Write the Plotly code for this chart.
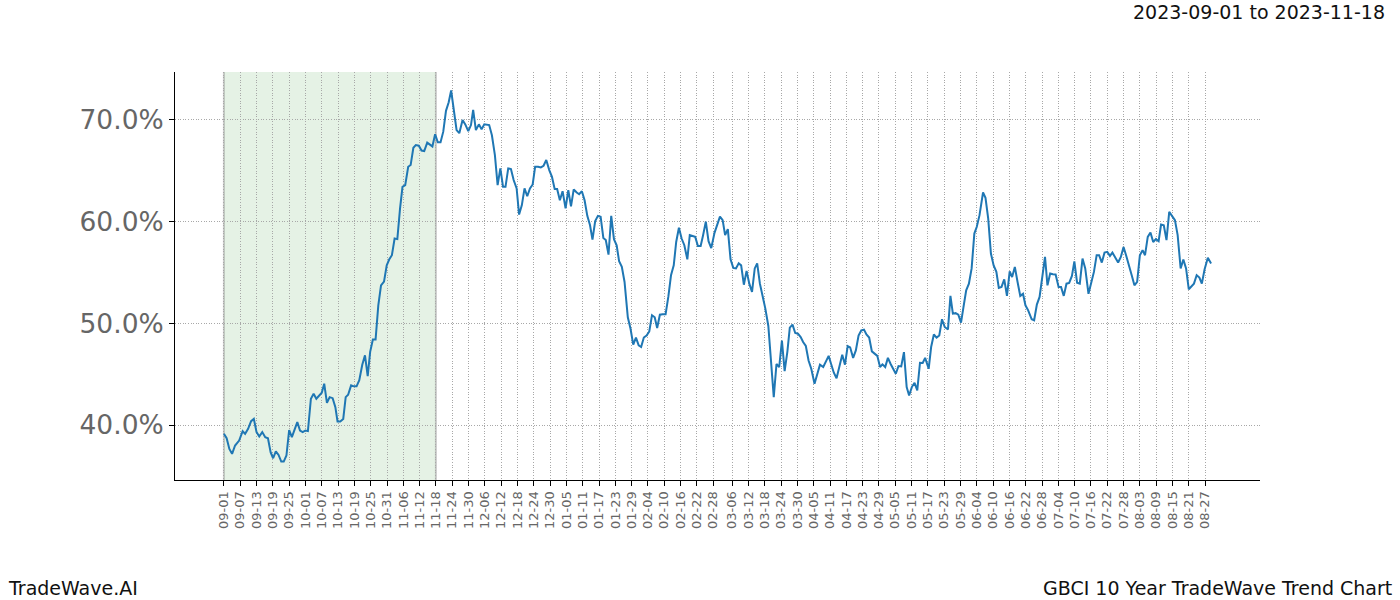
import pandas as pd
import plotly.graph_objects as go

start_date = "2023-09-01"
highlight_start = "2023-09-01"
highlight_end = "2023-11-18"

# day offsets from start_date and trend values (%)
day_offsets = [
    0, 1, 2, 3, 4.1, 5.6, 6.9, 7.8, 8.9, 10, 11, 12, 13, 14.1, 15.2, 16.2, 17.2, 18.1, 19.1, 20.1,
    21.1, 22, 23, 24, 25, 26, 27, 28, 29, 30, 30.9, 32, 33, 34, 35, 36, 36.9, 37.9, 38.9, 40,
    41, 41.8, 42.8, 43.9, 44.8, 45.7, 46.8, 47.8, 48.8, 49.8, 50.9, 51.9, 52.9, 53.8, 54.8, 55.8,
    56.8, 57.8, 58.9, 59.9, 60.8, 61.8, 62.8, 63.8, 64.8, 65.7, 66.7, 67.8, 68.7, 69.7, 70.6, 71.7,
    72.7, 73.7, 74.8, 75.8, 76.7, 77.7, 78.7, 79.7, 80.7, 81.7, 82.7, 83.6, 84.6, 85.6, 86.6, 87.8,
    88.8, 89.9, 90.9, 91.7, 92.7, 93.8, 94.8, 95.8, 97.6, 98.6, 99.7, 100.7, 101.7, 102.7, 103.6,
    104.6, 105.6, 106.6, 107.7, 108.6, 109.6, 110.6, 111.6, 112.6, 113.6, 114.5, 115.6, 116.6,
    117.6, 118.6, 119.7, 120.7, 121.7, 122.6, 123.6, 124.6, 125.7, 126.7, 127.7, 128.7, 129.8,
    130.7, 131.7, 132.7, 133.7, 134.7, 135.6, 136.6, 137.6, 138.6, 139.6, 140.5, 141.5, 142.5,
    143.5, 144.5, 145.4, 146.4, 147.4, 148.6, 149.6, 150.6, 151.6, 152.6, 153.5, 154.5, 155.5,
    156.5, 157.5, 158.5, 159.4, 160.4, 161.4, 162.5, 163.5, 164.5, 165.5, 166.4, 167.4, 168.4,
    169.4, 170.5, 171.4, 172.4, 173.4, 174.4, 175.4, 176.3, 177.3, 178.3, 179.3, 180.5, 181.5,
    182.5, 183.5, 184.4, 185.4, 186.4, 187.4, 188.4, 189.4, 190.3, 191.3, 192.3, 193.3, 194.3,
    195.3, 196.2, 197.2, 198.2, 199.2, 200.3, 201.2, 202.3, 203.3, 204.3, 205.3, 206.3, 207.3,
    208.2, 209.2, 210.2, 211.2, 212.2, 213.1, 214.1, 215.1, 216.1, 217.3, 218.3, 219.3, 220.5,
    221.5, 222.5, 223.4, 224.4, 225.4, 226.4, 227.5, 228.5, 229.5, 230.4, 231.5, 232.5, 233.5,
    234.5, 235.5, 236.4, 237.4, 238.4, 239.4, 240.4, 241.4, 242.3, 243.3, 244.3, 245.3, 246.2,
    247.2, 248.2, 249.2, 250.2, 251.2, 252.1, 253.1, 254.1, 255.1, 256.1, 257.1, 258, 259.3,
    260.2, 261.2, 262.2, 263.2, 264.2, 265.2, 266.4, 267.3, 268.2, 269.2, 270.2, 271.2, 272.1,
    273.1, 274.1, 275.1, 276.1, 277, 278, 279.3, 280.2, 281.2, 282.2, 283.2, 284.2, 285.1, 286.1,
    287.1, 288.1, 289.1, 290, 291, 292, 293, 294, 294.9, 295.9, 297.2, 298.1, 299.1, 300.1, 301.1,
    302.1, 303, 304, 305, 306, 307.1, 308, 309, 310, 311, 312, 312.9, 313.9, 314.9, 315.9, 316.9,
    318.1, 319.1, 320.1, 321.1, 322, 323, 324, 325, 326, 326.9, 327.9, 329, 330, 331, 332, 333.1,
    334, 335, 336, 337, 338, 338.9, 339.9, 340.9, 341.9, 342.9, 343.9, 344.8, 345.8, 346.8, 347.8,
    348.8, 349.9, 350.9, 352, 353, 354, 355, 355.9, 356.9, 357.9, 358.9, 359.8, 360.8, 362, 363.2,
]

trend_pct = [
    39.13, 38.7, 37.65, 37.16, 37.98, 38.47, 39.39, 39.13, 39.62, 40.38, 40.6, 39.3, 38.87, 39.3,
    38.8, 38.7, 37.3, 36.73, 37.4, 37.06, 36.4, 36.4, 37.0, 39.5, 38.8, 39.46, 40.28, 39.46, 39.3,
    39.46, 39.4, 42.58, 43.07, 42.58, 42.9, 43.17, 44.06, 42.18, 42.74, 42.64, 41.76, 40.35, 40.35,
    40.6, 42.74, 42.97, 43.9, 43.8, 43.8, 44.4, 45.93, 46.85, 44.8, 47.2, 48.4, 48.4, 51.77, 53.74,
    54.1, 55.7, 56.27, 56.7, 58.34, 58.28, 61.3, 63.43, 63.6, 65.4, 65.57, 67.27, 67.54, 67.47,
    67.0, 66.95, 67.77, 67.6, 67.4, 68.6, 67.8, 67.8, 68.85, 70.9, 71.74, 72.9, 71.0, 69.0, 68.7,
    70.0, 69.57, 68.9, 69.5, 71.0, 69.0, 69.57, 69.1, 69.57, 69.5, 68.5, 66.55, 63.6, 65.24, 63.43,
    63.43, 65.24, 65.17, 64.1, 63.27, 60.7, 61.6, 63.27, 62.5, 63.27, 63.66, 65.4, 65.4, 65.34,
    65.5, 66.06, 65.07, 64.4, 63.2, 63.2, 62.1, 63.0, 61.3, 63.1, 61.5, 63.17, 62.87, 62.7, 63.0,
    62.1, 60.57, 59.65, 58.24, 60.05, 60.57, 60.48, 58.4, 58.2, 56.76, 60.57, 58.28, 57.68, 56.1,
    55.55, 54.07, 50.6, 49.47, 47.9, 48.6, 47.83, 47.67, 48.6, 48.8, 49.2, 50.8, 50.6, 49.54, 50.85,
    50.9, 50.9, 52.6, 54.73, 55.7, 58.0, 59.4, 58.34, 57.68, 56.3, 58.67, 58.57, 58.5, 57.6, 57.6,
    58.67, 60.0, 58.08, 57.4, 58.9, 59.8, 60.5, 60.15, 58.67, 59.26, 56.3, 55.45, 55.4, 55.9, 55.7,
    53.8, 55.16, 53.9, 53.1, 55.4, 55.9, 53.9, 52.7, 51.45, 49.74, 46.2, 42.74, 46.0, 45.7, 48.3,
    45.3, 47.2, 49.57, 49.87, 49.05, 48.98, 48.65, 48.16, 47.77, 46.35, 45.53, 44.06, 45.04, 45.93,
    45.7, 46.26, 46.8, 46.0, 45.14, 44.6, 45.7, 46.9, 45.93, 47.77, 47.64, 46.6, 47.34, 48.8, 49.3,
    49.38, 48.9, 48.6, 47.24, 47.0, 46.8, 45.7, 45.96, 45.7, 46.6, 46.0, 45.53, 45.04, 45.8, 45.76,
    47.17, 43.73, 42.9, 43.73, 44.15, 43.4, 46.12, 46.1, 46.6, 45.53, 47.67, 48.9, 48.6, 48.8, 50.4,
    49.64, 49.4, 52.7, 50.95, 51.0, 50.85, 50.07, 51.6, 53.25, 53.9, 55.4, 58.83, 59.5, 60.64,
    62.87, 62.35, 60.3, 56.86, 55.7, 55.06, 53.48, 53.58, 54.33, 52.7, 55.1, 54.56, 55.55, 54.07,
    52.7, 52.9, 51.77, 51.28, 50.4, 50.3, 51.84, 52.6, 54.8, 56.53, 53.74, 54.9, 54.83, 54.8, 53.58,
    53.58, 52.7, 53.9, 53.97, 54.66, 56.1, 54.0, 53.9, 56.37, 55.4, 52.9, 54.0, 55.06, 56.7, 56.7,
    55.98, 56.96, 57.03, 56.63, 56.96, 56.5, 55.98, 56.53, 57.5, 56.63, 55.7, 54.73, 53.74, 54.07,
    56.7, 57.2, 56.7, 58.5, 58.93, 58.0, 58.28, 58.08, 59.72, 59.65, 58.18, 60.97, 60.57, 60.15,
    58.67, 55.4, 56.27, 55.4, 53.35, 53.58, 53.9, 54.73, 54.5, 53.9, 55.3, 56.44, 55.88,
]

tick_labels = [
    "09-01", "09-07", "09-13", "09-19", "09-25", "10-01", "10-07", "10-13", "10-19", "10-25",
    "10-31", "11-06", "11-12", "11-18", "11-24", "11-30", "12-06", "12-12", "12-18", "12-24",
    "12-30", "01-05", "01-11", "01-17", "01-23", "01-29", "02-04", "02-10", "02-16", "02-22",
    "02-28", "03-06", "03-12", "03-18", "03-24", "03-30", "04-05", "04-11", "04-17", "04-23",
    "04-29", "05-05", "05-11", "05-17", "05-23", "05-29", "06-04", "06-10", "06-16", "06-22",
    "06-28", "07-04", "07-10", "07-16", "07-22", "07-28", "08-03", "08-09", "08-15", "08-21",
    "08-27",
]

y_ticks = [0.40, 0.50, 0.60, 0.70]

t0 = pd.Timestamp(start_date)
x_dates = [t0 + pd.to_timedelta(d, unit="D") for d in day_offsets]
y_vals = [v / 100 for v in trend_pct]

tick_vals = []
for lab in tick_labels:
    m = int(lab[:2])
    yr = 2023 if m >= 9 else 2024
    tick_vals.append(pd.Timestamp(f"{yr}-{lab}"))

x_min = t0 - pd.to_timedelta(18.0, unit="D")
x_max = t0 + pd.to_timedelta(381.2, unit="D")

fig = go.Figure()
fig.add_trace(go.Scatter(
    x=x_dates, y=y_vals, mode="lines",
    line=dict(color="#1f77b4", width=2),
    hoverinfo="skip", showlegend=False,
))

fig.add_shape(type="rect", xref="x", yref="paper",
              x0=highlight_start, x1=highlight_end, y0=0, y1=1,
              fillcolor="rgba(0,128,0,0.1)", line=dict(width=0), layer="below")
for xe in (highlight_start, highlight_end):
    fig.add_shape(type="line", xref="x", yref="paper", x0=xe, x1=xe, y0=0, y1=1,
                  line=dict(color="rgba(128,128,128,0.4)", width=2), layer="below")

L, R, T, B = 175, 140, 72, 120
W, H = 1400, 600
pw, ph = W - L - R, H - T - B

def px(xp):
    return (xp - L) / pw

def py(yp):
    return (H - B - yp) / ph

font_family = "DejaVu Sans"

fig.add_annotation(text="2023-09-01 to 2023-11-18", xref="paper", yref="paper",
                   x=px(1387), y=py(12), xanchor="right", yanchor="middle",
                   showarrow=False, font=dict(size=19, color="#111111", family=font_family))
fig.add_annotation(text="TradeWave.AI", xref="paper", yref="paper",
                   x=px(6), y=py(588), xanchor="left", yanchor="middle",
                   showarrow=False, font=dict(size=19, color="#111111", family=font_family))
fig.add_annotation(text="GBCI 10 Year TradeWave Trend Chart", xref="paper", yref="paper",
                   x=px(1394), y=py(588), xanchor="right", yanchor="middle",
                   showarrow=False, font=dict(size=19, color="#111111", family=font_family))

grid_style = dict(showgrid=True, gridcolor="#a8a8a8", griddash="1px,1.6px", gridwidth=0.8)

fig.update_layout(
    width=W, height=H,
    margin=dict(l=L, r=R, t=T, b=B),
    paper_bgcolor="white", plot_bgcolor="white",
    font=dict(family=font_family),
    xaxis=dict(
        type="date", range=[x_min, x_max],
        tickmode="array", tickvals=tick_vals, ticktext=tick_labels,
        tickangle=-90, tickfont=dict(size=13, color="#666666"),
        ticks="outside", ticklen=5, tickcolor="black", tickwidth=1,
        showline=True, linecolor="black", linewidth=1, mirror=False,
        zeroline=False, **grid_style,
    ),
    yaxis=dict(
        range=[0.3459, 0.7472],
        tickmode="array", tickvals=y_ticks, tickformat=".1%",
        tickfont=dict(size=26.5, color="#666666"),
        ticks="outside", ticklen=5, tickcolor="black", tickwidth=1,
        showline=True, linecolor="black", linewidth=1, mirror=False,
        zeroline=False, **grid_style,
    ),
)

fig.write_html("out.html")
